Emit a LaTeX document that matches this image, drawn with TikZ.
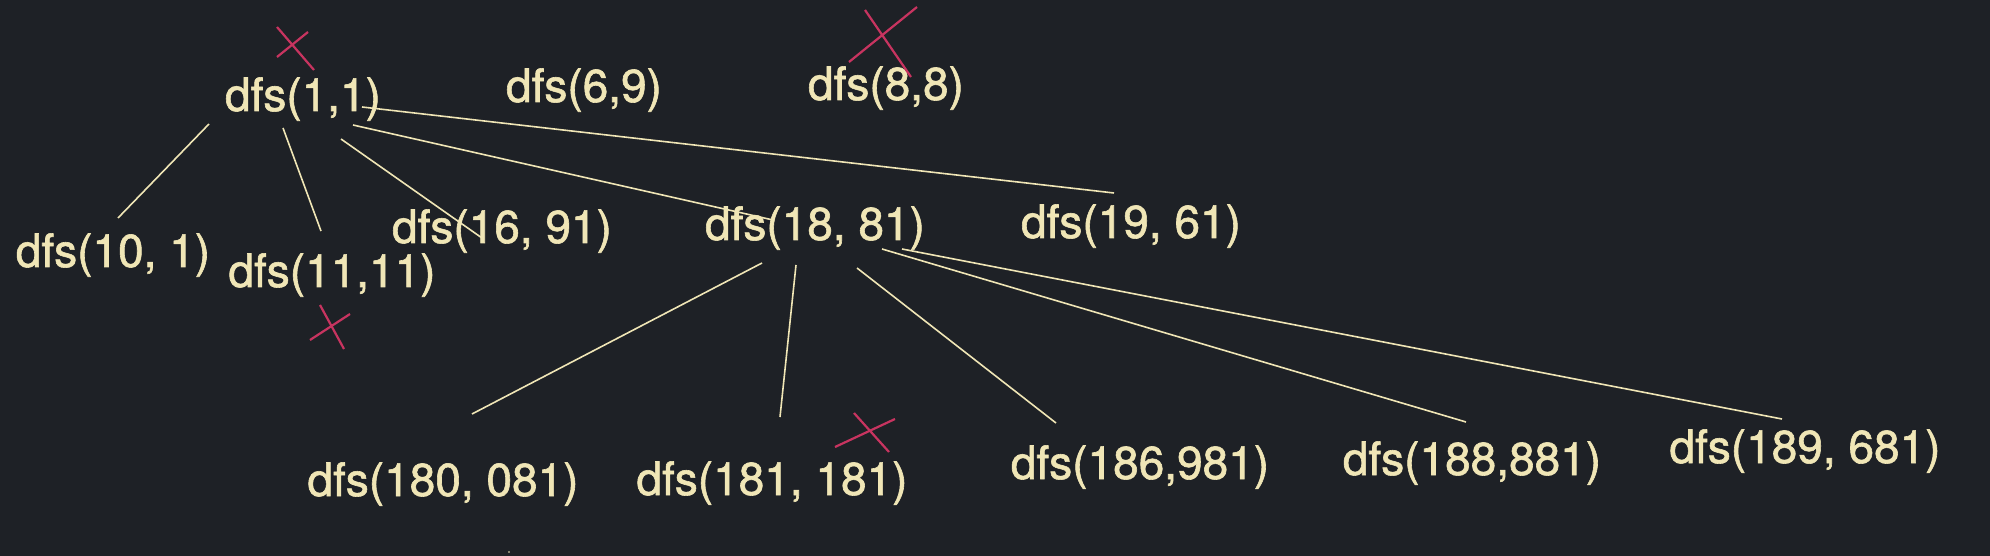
\documentclass[tikz,border=0pt]{standalone}
\usepackage{fontspec}
\setmainfont[FakeBold=1.3]{TeX Gyre Heros}
\usetikzlibrary{calc}
\definecolor{bgdark}{RGB}{30,33,38}
\definecolor{cream}{RGB}{240,230,182}
\definecolor{crossred}{RGB}{200,52,96}
\begin{document}
\begin{tikzpicture}[x=1pt,y=-1pt,
  lbl/.style={anchor=base,inner sep=0pt,text=cream,font=\fontsize{46}{50}\selectfont},
  edge/.style={draw=cream,line width=1.6pt},
  xmark/.style={draw=crossred,line width=2.2pt}]
\fill[bgdark] (0,0) rectangle (1990,556);
\useasboundingbox (0,0) rectangle (1990,556);
% nodes
\node[lbl] (n11) at (303,111) {dfs(1,1)};
\node[lbl] (n69) at (584,102) {dfs(6,9)};
\node[lbl] (n88) at (886,100) {dfs(8,8)};
\node[lbl] (n101) at (113,267) {dfs(10, 1)};
\node[lbl] (n1111) at (332,287) {dfs(11,11)};
\node[lbl] (n1691) at (502,243) {dfs(16, 91)};
\node[lbl] (n1881) at (815,240) {dfs(18, 81)};
\node[lbl] (n1961) at (1131,238) {dfs(19, 61)};
\node[lbl] (n180) at (443,496) {dfs(180, 081)};
\node[lbl] (n181) at (772,495) {dfs(181, 181)};
\node[lbl] (n186) at (1140,479) {dfs(186,981)};
\node[lbl] (n188) at (1472,475) {dfs(188,881)};
\node[lbl] (n189) at (1805,463) {dfs(189, 681)};
% edges
\draw[edge] ($(n11.base)+(-94,13)$) -- ($(n101.base)+(5,-49)$);
\draw[edge] ($(n11.base)+(-20,17)$) -- ($(n1111.base)+(-11,-56)$);
\draw[edge] ($(n11.base)+(38,28)$) -- ($(n1691.base)+(-20,-5)$);
\draw[edge] ($(n11.base)+(50,14)$) -- ($(n1881.base)+(-42,-20)$);
\draw[edge] ($(n11.base)+(59,-4)$) -- ($(n1961.base)+(-17,-45)$);
\draw[edge] ($(n1881.base)+(-53,23)$) -- ($(n180.base)+(29,-82)$);
\draw[edge] ($(n1881.base)+(-19,25)$) -- ($(n181.base)+(8,-78)$);
\draw[edge] ($(n1881.base)+(42,28)$) -- ($(n186.base)+(-84,-56)$);
\draw[edge] ($(n1881.base)+(67,9)$) -- ($(n188.base)+(-6,-53)$);
\draw[edge] ($(n1881.base)+(87,9)$) -- ($(n189.base)+(-23,-44)$);
% crosses
\draw[xmark] (277,27) -- (314,70);
\draw[xmark] (277,57) -- (308,32);
\draw[xmark] (865,10) -- (911,77);
\draw[xmark] (849,62) -- (917,7);
\draw[xmark] (320,305) -- (344,349);
\draw[xmark] (310,340) -- (350,314);
\draw[xmark] (854,413) -- (889,452);
\draw[xmark] (835,447) -- (895,419);
% speck
\fill[cream] (509,552) circle (0.8);
\end{tikzpicture}
\end{document}
